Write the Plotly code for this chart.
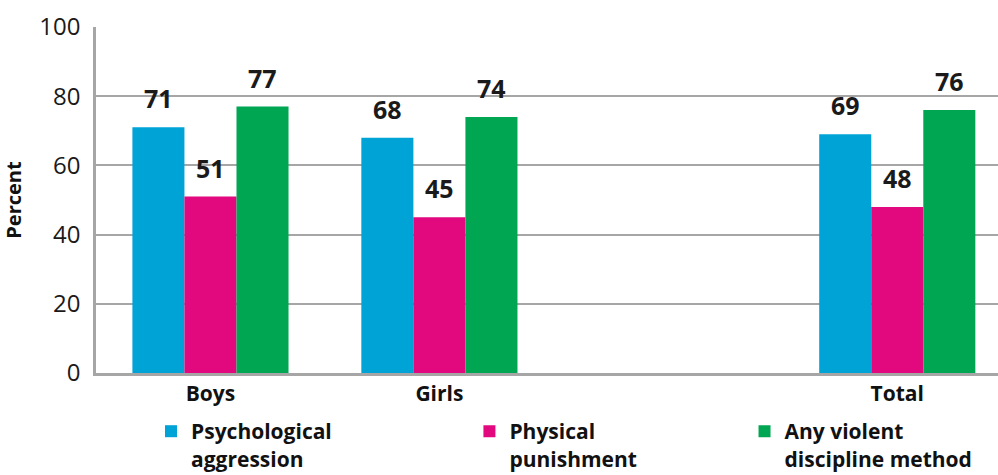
import plotly.graph_objects as go

# Share of children experiencing each discipline method, by sex
groups = ["Boys", "Girls", "Total"]
group_pos = [0, 1, 3]  # slot 2 left blank between Girls and Total
series_names = ["Psychological<br>aggression", "Physical<br>punishment", "Any violent<br>discipline method"]
psychological = [71, 68, 69]
physical = [51, 45, 48]
any_violent = [77, 74, 76]
colors = ["#00A3D6", "#E2097F", "#00A651"]
y_ticks = [0, 20, 40, 60, 80, 100]

FONT = "Open Sans"
BAR_GAP = 0.318
values = [psychological, physical, any_violent]
legends = ["legend", "legend2", "legend3"]

fig = go.Figure()
for name, vals, col, lg in zip(series_names, values, colors, legends):
    fig.add_trace(go.Bar(
        x=group_pos, y=vals, name=name, legend=lg, showlegend=True,
        marker=dict(color=col, line=dict(width=0)),
    ))

# value labels above each bar
bar_w = (1 - BAR_GAP) / len(values)
for i, vals in enumerate(values):
    off = (i - (len(values) - 1) / 2) * bar_w
    for xp, v in zip(group_pos, vals):
        fig.add_annotation(
            x=xp + off, y=v, text=f"<b>{v}</b>", showarrow=False,
            yanchor="middle", yshift=29,
            font=dict(family=FONT, size=25, color="#1a1a1a"),
        )

legend_style = dict(
    orientation="h", yanchor="top", xanchor="left", valign="top",
    font=dict(family=FONT, size=21, color="#111111", weight="bold"),
    bgcolor="rgba(0,0,0,0)", itemclick=False, itemdoubleclick=False,
)
fig.update_layout(
    width=998, height=475,
    margin=dict(l=96, r=0, t=27, b=102, autoexpand=False),
    showlegend=True,
    paper_bgcolor="white", plot_bgcolor="white",
    barmode="group", bargap=BAR_GAP, bargroupgap=0,
    font=dict(family=FONT, color="#1a1a1a"),
    xaxis=dict(
        range=[-0.5, 3.44], tickvals=group_pos, ticktext=groups,
        showgrid=False, zeroline=False, showline=True,
        linecolor="#a6a6a6", linewidth=2.5, ticks="",
        tickfont=dict(family=FONT, size=21, color="#111111", weight="bold"),
    ),
    yaxis=dict(
        range=[0, 100], tickvals=y_ticks, showgrid=True,
        gridcolor="#a6a6a6", gridwidth=1.5, zeroline=False,
        showline=True, linecolor="#a6a6a6", linewidth=2.5, ticks="",
        ticklabelstandoff=8,
        tickfont=dict(family=FONT, size=24, color="#1a1a1a"),
        title=dict(text="Percent", standoff=14,
                   font=dict(family=FONT, size=20, color="#111111", weight="bold")),
    ),
    legend=dict(x=0.061, y=-0.11, **legend_style),
    legend2=dict(x=0.414, y=-0.11, **legend_style),
    legend3=dict(x=0.719, y=-0.11, **legend_style),
)

fig.write_html("out.html")
